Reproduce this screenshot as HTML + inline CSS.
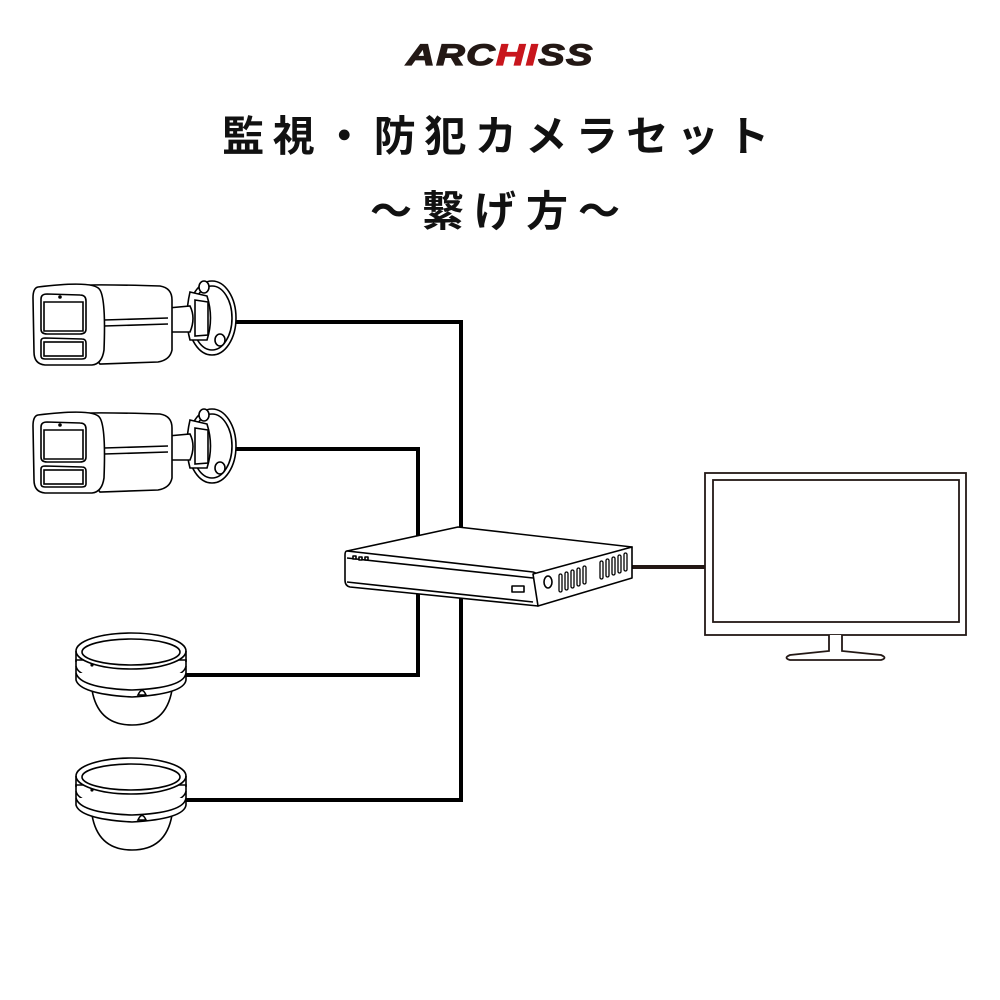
<!DOCTYPE html>
<html><head><meta charset="utf-8">
<style>
html,body{margin:0;padding:0;background:#fff;width:1000px;height:1000px;overflow:hidden}
svg{display:block}
</style></head>
<body>
<svg width="1000" height="1000" viewBox="0 0 1000 1000" xmlns="http://www.w3.org/2000/svg">
<rect width="1000" height="1000" fill="#fff"/>
<!-- logo -->
<text x="500" y="65" text-anchor="middle" font-family="Liberation Sans, sans-serif" font-weight="bold" font-style="italic" font-size="30" letter-spacing="1" fill="#231815" stroke="#231815" stroke-width="1.2" transform="translate(500 0) scale(1.32 1) translate(-500 0)">ARC<tspan fill="#c8161d" stroke="#c8161d">HI</tspan>SS</text>
<!-- titles -->
<text x="500" y="151" text-anchor="middle" font-family="Liberation Sans, 'Noto Sans CJK JP', sans-serif" font-weight="bold" font-size="42" letter-spacing="8.5" fill="#111">監視・防犯カメラセット</text>
<text x="500" y="226" text-anchor="middle" font-family="Liberation Sans, 'Noto Sans CJK JP', sans-serif" font-weight="bold" font-size="42" letter-spacing="10" fill="#111">～繋げ方～</text>

<!-- wires -->
<g fill="none" stroke="#000" stroke-width="4">
<polyline points="236,322 461,322 461,800 183,800"/>
<polyline points="236,449 418,449 418,675 183,675"/>
</g>
<line x1="630" y1="567" x2="706" y2="567" stroke="#231815" stroke-width="4"/>

<defs>
<g id="bullet" fill="#fff" stroke="#000" stroke-width="1.6">
  <ellipse cx="212" cy="318" rx="24" ry="37"/>
  <ellipse cx="212" cy="318" rx="20" ry="32"/>
  <ellipse cx="204" cy="287" rx="5" ry="6"/>
  <ellipse cx="220" cy="340" rx="5" ry="6"/>
  <path d="M190,292 L207,296 Q214,318 207,340 L190,340 Q184,318 190,292 Z"/>
  <path d="M195,300 L208,302 L208,335 L195,336 Z"/>
  <path d="M168,308 L190,306 Q196,318 190,332 L168,332 Z"/>
  <path d="M40,288 Q70,283 160,286 Q172,288 172,300 L172,350 Q170,360 158,362 L100,364 Z"/>
  <path d="M38,287 Q95,280 100,290 Q106,300 104,350 Q102,364 92,365 L45,365 Q34,364 34,352 L33,298 Q33,288 38,287 Z"/>
  <path d="M41,299 Q41,294 47,294 L80,295 Q86,295 86,301 L86,329 Q86,334 80,334 L47,334 Q41,334 41,329 Z"/>
  <path d="M44,302 L83,302 L83,331 L44,331 Z"/>
  <path d="M41,341 Q41,338 45,338 L82,339 Q86,339 86,343 L86,356 Q86,359 82,359 L45,359 Q41,359 41,356 Z"/>
  <rect x="44" y="342" width="39" height="14"/>
  <line x1="104" y1="320" x2="168" y2="318"/>
  <line x1="104" y1="326" x2="168" y2="324"/>
  <circle cx="60" cy="297" r="1" fill="#000"/>
</g>
<g id="dome" fill="#fff" stroke="#000" stroke-width="1.6">
  <path d="M92,690 Q98,725 132,725 Q166,725 172,690 Z"/>
  <path d="M76,660 L76,680 Q80,694 132,697 Q184,694 186,680 L186,660 Z"/>
  <path d="M76,666 Q78,680 132,683 Q184,680 186,666"/>
  <path d="M76,673 Q80,688 132,690 Q184,688 186,673"/>
  <ellipse cx="131" cy="651" rx="55" ry="18"/>
  <path d="M76,651 L76,662 M186,651 L186,662"/>
  <ellipse cx="131" cy="652" rx="49" ry="13"/>
  <path d="M138,695 Q142,686 146,695 Z"/>
  <circle cx="92" cy="665" r="0.8" fill="#000"/>
</g>
</defs>
<use href="#bullet"/>
<use href="#bullet" transform="translate(0,128)"/>
<use href="#dome"/>
<use href="#dome" transform="translate(0,125)"/>

<!-- NVR -->
<g fill="#fff" stroke="#000" stroke-width="1.6" stroke-linejoin="round">
  <path d="M347,551 L458,527 L632,547 L533,576 Z"/>
  <path d="M347,551 L533,572 Q540,574 538,580 L538,606 L350,587 Q345,586 345,580 L345,555 Q345,551 347,551 Z"/>
  <path d="M533,574 L632,547 L632,578 L538,606 Z"/>
  <line x1="347" y1="558" x2="533" y2="578"/>
  <line x1="347" y1="582" x2="533" y2="602"/>
  <rect x="512" y="586" width="12" height="6"/>
  <ellipse cx="548" cy="582" rx="4" ry="6"/>
  <g stroke-width="1.3">
    <rect x="559" y="574" width="3" height="18" rx="1.5"/><rect x="565" y="572" width="3" height="18" rx="1.5"/>
    <rect x="571" y="570" width="3" height="18" rx="1.5"/><rect x="577" y="568" width="3" height="18" rx="1.5"/>
    <rect x="583" y="566" width="3" height="18" rx="1.5"/>
    <rect x="600" y="561" width="3" height="18" rx="1.5"/><rect x="606" y="559" width="3" height="18" rx="1.5"/>
    <rect x="612" y="557" width="3" height="18" rx="1.5"/><rect x="618" y="555" width="3" height="18" rx="1.5"/>
    <rect x="624" y="553" width="3" height="18" rx="1.5"/>
  </g>
  <rect x="353" y="556" width="3" height="3"/><rect x="359" y="557" width="3" height="3"/><rect x="365" y="557" width="3" height="3"/>
</g>

<!-- monitor -->
<g fill="#fff" stroke="#231815" stroke-width="1.8">
  <rect x="705" y="473" width="261" height="162"/>
  <rect x="713" y="480" width="246" height="142"/>
  <path d="M829,635 L829,651 L790,655 Q783,658 790,660 L881,660 Q888,658 881,655 L842,651 L842,635"/>
</g>
</svg>
</body></html>
